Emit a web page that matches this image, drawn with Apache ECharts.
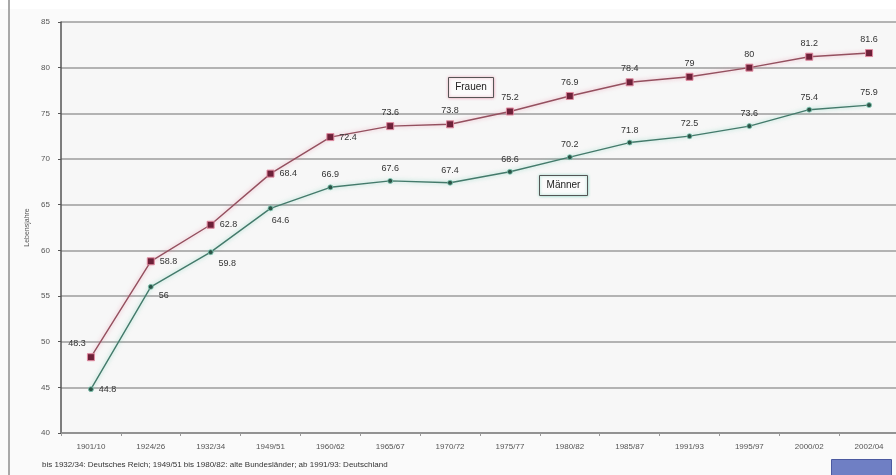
<!DOCTYPE html>
<html>
<head>
<meta charset="utf-8">
<script src="https://cdn.jsdelivr.net/npm/echarts@6/dist/echarts.min.js"></script>
<style>
  html, body { margin: 0; padding: 0; background: #fafafa; }
  #chart { width: 896px; height: 475px; }
</style>
</head>
<body>
<div id="chart"></div>
<script>
// Lebenserwartung bei Geburt in Deutschland (Sterbetafeln)
const periods = ['1901/10', '1924/26', '1932/34', '1949/51', '1960/62', '1965/67', '1970/72',
                 '1975/77', '1980/82', '1985/87', '1991/93', '1995/97', '2000/02', '2002/04'];
const frauen = [48.3, 58.8, 62.8, 68.4, 72.4, 73.6, 73.8, 75.2, 76.9, 78.4, 79, 80, 81.2, 81.6];
const maenner = [44.8, 56, 59.8, 64.6, 66.9, 67.6, 67.4, 68.6, 70.2, 71.8, 72.5, 73.6, 75.4, 75.9];
const yTicks = [40, 45, 50, 55, 60, 65, 70, 75, 80, 85];

// where each value label sits relative to its point
const frauenLabelPos = [
  { position: 'top', offset: [-14, 0] },
  { position: 'right' }, { position: 'right' }, { position: 'right' }, { position: 'right' }
];
const maennerLabelPos = [
  { position: 'right' },
  { position: 'right', offset: [0, 9] },
  { position: 'right', offset: [0, 11] },
  { position: 'bottom', offset: [10, 0] }
];

function withLabels(values, placements) {
  return values.map((v, i) => {
    const p = placements[i] || { position: 'top' };
    return { value: v, label: Object.assign({}, p) };
  });
}

const chart = echarts.init(document.getElementById('chart'), null, { renderer: 'canvas' });

const FONT = 'Liberation Sans, Arial, sans-serif';
const labelStyle = { show: true, fontSize: 9, color: '#333', fontFamily: FONT, distance: 5 };

chart.setOption({
  backgroundColor: '#fafafa',
  animation: false,
  grid: {
    left: 61, top: 22, width: 838, height: 411,
    containLabel: false, outerBoundsMode: 'none',
    show: true, backgroundColor: '#f7f7f7', borderWidth: 0
  },
  xAxis: {
    type: 'category',
    data: periods,
    boundaryGap: true,
    axisLine: { lineStyle: { color: '#888', width: 1.5 } },
    axisTick: { show: true, length: 3, lineStyle: { color: '#999' } },
    axisLabel: { fontSize: 8, color: '#555', margin: 10, fontFamily: FONT }
  },
  yAxis: {
    type: 'value',
    min: yTicks[0],
    max: yTicks[yTicks.length - 1],
    interval: 5,
    name: 'Lebensjahre',
    nameLocation: 'middle',
    nameGap: 30,
    nameTextStyle: { fontSize: 7, color: '#555' },
    axisLine: { show: true, lineStyle: { color: '#555', width: 1.5 } },
    axisTick: { show: true, length: 3, lineStyle: { color: '#555' } },
    axisLabel: { fontSize: 8, color: '#555', margin: 11, fontFamily: FONT },
    splitLine: { show: true, lineStyle: { color: '#9c9c9c', width: 1.6 } }
  },
  series: [
    {
      name: 'Frauen',
      type: 'line',
      data: withLabels(frauen, frauenLabelPos),
      symbol: 'rect',
      symbolSize: 7,
      itemStyle: { color: '#6e2038', borderColor: '#e08aa0', borderWidth: 1 },
      lineStyle: { color: '#94505f', width: 1.4, shadowColor: 'rgba(230,120,150,0.6)', shadowBlur: 4 },
      label: labelStyle,
      z: 3
    },
    {
      name: 'Männer',
      type: 'line',
      data: withLabels(maenner, maennerLabelPos),
      symbol: 'circle',
      symbolSize: 5,
      itemStyle: { color: '#2b5447', borderColor: '#7fcab5', borderWidth: 0.8 },
      lineStyle: { color: '#447a6b', width: 1.4, shadowColor: 'rgba(90,200,170,0.6)', shadowBlur: 4 },
      label: labelStyle,
      z: 3
    }
  ],
  graphic: [
    // left frame bar
    { type: 'rect', left: 8, top: 0, shape: { width: 2, height: 475 }, style: { fill: '#a8a8a8' } },
    { type: 'rect', left: 0, top: 0, shape: { width: 896, height: 9 }, style: { fill: '#ffffff' }, z: -1 },
    // series name boxes
    {
      type: 'group', left: 448, top: 77, z: 10,
      children: [
        { type: 'rect', shape: { width: 45, height: 20 }, style: { fill: '#fbfbfb', stroke: '#555', lineWidth: 1, shadowColor: 'rgba(230,120,150,0.7)', shadowBlur: 3 } },
        { type: 'text', x: 22.5, y: 10, style: { text: 'Frauen', fontSize: 10, fill: '#222', align: 'center', verticalAlign: 'middle', fontFamily: FONT } }
      ]
    },
    {
      type: 'group', left: 539, top: 175, z: 10,
      children: [
        { type: 'rect', shape: { width: 48, height: 20 }, style: { fill: '#fbfbfb', stroke: '#555', lineWidth: 1, shadowColor: 'rgba(90,200,170,0.7)', shadowBlur: 3 } },
        { type: 'text', x: 24, y: 10, style: { text: 'Männer', fontSize: 10, fill: '#222', align: 'center', verticalAlign: 'middle', fontFamily: FONT } }
      ]
    },
    // footnote
    {
      type: 'text', left: 42, top: 461,
      style: { text: 'bis 1932/34: Deutsches Reich; 1949/51 bis 1980/82: alte Bundesländer; ab 1991/93: Deutschland', fontSize: 8, fill: '#333', fontFamily: FONT }
    },
    // corner button
    { type: 'rect', left: 831, top: 459, shape: { width: 60, height: 16 }, style: { fill: '#6f7fc4', stroke: '#4c5aa0', lineWidth: 1 } }
  ]
});
</script>
</body>
</html>
